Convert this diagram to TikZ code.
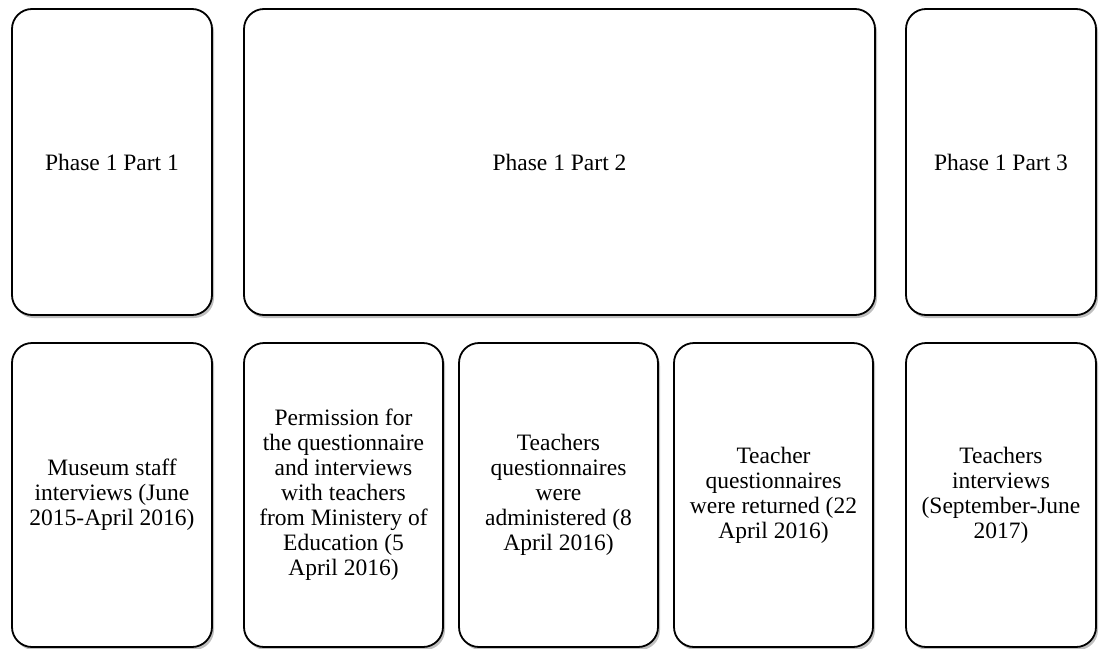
\documentclass[tikz,border=0pt]{standalone}
\usepackage{fontspec}
\setmainfont{Liberation Serif}
\usetikzlibrary{shadows}
\begin{document}
\begin{tikzpicture}[x=1pt,y=-1pt,
  box/.style={draw=black, line width=1.8pt, rounded corners=20pt, fill=white,
    align=center, font=\fontsize{23.5}{25}\selectfont, inner sep=0pt,
    drop shadow={shadow xshift=2pt, shadow yshift=-3pt, opacity=0.25, fill=black}},
  toprow/.style={box, minimum height=306pt},
  botrow/.style={box, minimum height=304pt}]
\useasboundingbox (0,0) rectangle (1108,648);
\node[toprow, minimum width=200pt] (p1) at (112,162) {Phase 1 Part 1};
\node[toprow, minimum width=631pt] (p2) at (559.5,162) {Phase 1 Part 2};
\node[toprow, minimum width=190pt] (p3) at (1001,162) {Phase 1 Part 3};
\node[botrow, minimum width=200pt] (d) at (112,495) {Museum staff\\interviews (June\\2015-April 2016)};
\node[botrow, minimum width=199pt] (e) at (343.5,495) {Permission for\\the questionnaire\\and interviews\\with teachers\\from Ministery of\\Education (5\\April 2016)};
\node[botrow, minimum width=199pt] (f) at (558.5,495) {Teachers\\questionnaires\\were\\administered (8\\April 2016)};
\node[botrow, minimum width=199pt] (g) at (773.5,495) {Teacher\\questionnaires\\were returned (22\\April 2016)};
\node[botrow, minimum width=190pt] (h) at (1001,495) {Teachers\\interviews\\(September-June\\2017)};
\end{tikzpicture}
\end{document}
